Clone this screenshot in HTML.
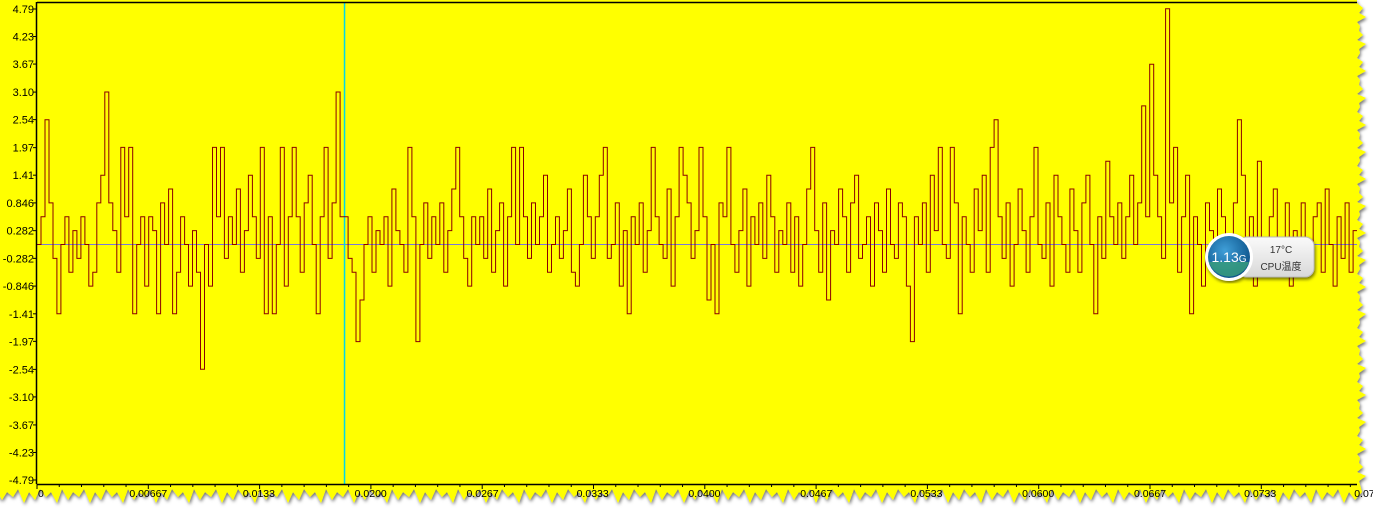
<!DOCTYPE html>
<html><head><meta charset="utf-8"><style>
html,body{margin:0;padding:0;background:#fff;width:1373px;height:513px;overflow:hidden}
svg{display:block}
text{font-family:"Liberation Sans","Noto Sans CJK SC",sans-serif}
</style></head><body>
<svg id="chart" width="1373" height="513" viewBox="0 0 1373 513">
<defs>
<filter id="sh" x="-5%" y="-5%" width="110%" height="110%"><feDropShadow dx="1" dy="2" stdDeviation="1.5" flood-color="#000" flood-opacity="0.55"/></filter>
<radialGradient id="ball" cx="40%" cy="35%" r="70%"><stop offset="0" stop-color="#3f9fd8"/><stop offset="1" stop-color="#0a4f86"/></radialGradient>
<linearGradient id="pill" x1="0" y1="0" x2="0" y2="1"><stop offset="0" stop-color="#fafafa"/><stop offset="1" stop-color="#d8d8d8"/></linearGradient>
<clipPath id="plotclip"><rect x="37" y="3" width="1320" height="482"/></clipPath>
</defs>
<path id="paper" fill="#ffff00" filter="url(#sh)"/>
<g id="grid" clip-path="url(#plotclip)"></g>
<g id="series" clip-path="url(#plotclip)"></g>
<g id="axes"></g>
<g filter="url(#sh)">
<rect x="1238" y="237" width="76" height="40" rx="9" fill="url(#pill)" stroke="#bbb"/>
<circle cx="1229" cy="257" r="24" fill="#fff"/>
<circle cx="1229" cy="257" r="21" fill="url(#ball)"/>
<path d="M1209 262 h40 a21 21 0 0 1 -40 0z" fill="#3aa07a" opacity="0.8"/>
<text x="1229" y="262" font-size="14" fill="#fff" text-anchor="middle">1.13<tspan font-size="10">G</tspan></text>
<text x="1281" y="253" font-size="10" fill="#333" text-anchor="middle">17°C</text>
<text x="1281" y="270" font-size="10" fill="#333" text-anchor="middle">CPU温度</text>
</g>
</svg>
<script>
const yTicks=[4.79,4.23,3.67,3.10,2.54,1.97,1.41,0.846,0.282,-0.282,-0.846,-1.41,-1.97,-2.54,-3.10,-3.67,-4.23,-4.79];
const yTickLabels=["4.79","4.23","3.67","3.10","2.54","1.97","1.41","0.846","0.282","-0.282","-0.846","-1.41","-1.97","-2.54","-3.10","-3.67","-4.23","-4.79"];
const xTicks=[0,0.00667,0.0133,0.0200,0.0267,0.0333,0.0400,0.0467,0.0533,0.0600,0.0667,0.0733,0.0799];
const xTickLabels=["0","0.00667","0.0133","0.0200","0.0267","0.0333","0.0400","0.0467","0.0533","0.0600","0.0667","0.0733","0.0799"];
const sampleStep=0.000239;
const levelUnit=0.282;
const signalLevels=[0,2,9,3,-1,-5,0,2,-2,1,
-1,2,0,-3,-2,3,5,11,3,1,
-2,7,2,7,-5,0,2,-3,2,1,
-5,3,0,4,-5,-2,2,0,-3,1,
-2,-9,0,-3,7,2,7,-1,2,0,
4,-2,1,5,2,-1,7,-5,2,-5,
0,7,-3,2,7,2,-2,3,5,0,
-5,2,7,-1,3,11,2,2,-1,-2,
-7,-4,0,2,-2,1,0,2,-3,4,
1,0,-2,7,2,-7,0,3,-1,2,
0,3,-2,1,4,7,2,-1,-3,2,
0,2,-1,4,-2,1,3,-3,2,7,
0,7,2,-1,3,0,2,5,-2,0,
2,-1,1,4,-2,-3,0,5,2,-1,
2,5,7,-1,0,3,-3,1,-5,2,
0,3,-2,1,7,2,0,-1,4,-3,
2,7,5,3,-1,1,7,2,-4,0,
-5,3,2,7,0,-2,1,4,-3,2,
0,3,-1,5,2,-2,1,0,3,-2,
2,-3,0,4,7,1,-2,3,-4,1,
0,4,2,-2,3,5,-1,0,2,-3,
3,1,-2,4,0,-1,3,2,-3,-7,
2,0,3,-2,5,1,7,0,-1,7,
3,-5,2,0,-2,4,1,5,-2,7,
9,2,-1,3,-3,0,4,1,-2,2,
7,0,-1,3,-3,5,2,0,-2,4,
1,-2,3,5,0,-5,2,-1,6,2,
0,3,-1,2,5,0,3,10,2,13,
5,2,-1,17,3,7,-2,2,5,-5,
2,0,-3,3,1,-2,4,2,-1,0,
3,9,5,-1,2,-3,6,0,-2,2,
4,-1,0,3,-3,1,-2,3,0,-1,
2,3,-2,4,0,-3,2,-1,3,-2,1];
const cursorTime=0.0184;

const NS="http://www.w3.org/2000/svg";
const L=37,R=1357,T=3,B=484;
const yScale=v=>244.5-v*(235.5/4.79);
const xScale=t=>L+t*(111.3/0.00667);
function el(tag,attrs,parent,txt){const e=document.createElementNS(NS,tag);for(const k in attrs)e.setAttribute(k,attrs[k]);if(txt!==undefined)e.textContent=txt;parent.appendChild(e);return e;}

let d="M0 0 L1357 0 L1357 3";
let j=0;
for(let y=8;y<482;y+=9){j++;d+=` L${1360+(j%3)*3} ${y} L${1357+(j%2)*2} ${y+5}`;}
d+=" L1362 492";
j=0;
for(let x=1355;x>0;x-=11){j++;d+=` L${x} ${497+(j%3)*3} L${x-6} ${489+(j%2)*3}`;}
d+=" L0 500 Z";
document.getElementById('paper').setAttribute('d',d);

const grid=document.getElementById('grid');
const axes=document.getElementById('axes');
const series=document.getElementById('series');

el('line',{x1:L,x2:R,y1:yScale(0),y2:yScale(0),stroke:'#7777dd','stroke-width':1,},grid);
const cur=el('line',{x1:xScale(cursorTime)+0.5,x2:xScale(cursorTime)+0.5,y1:T,y2:B,stroke:'#00d8e8','stroke-width':1.5},grid);



let p="";
signalLevels.forEach((v,i)=>{const x0=xScale(i*sampleStep),x1=xScale((i+1)*sampleStep);const y=yScale(v*levelUnit);p+=(i?` L${x0.toFixed(1)} ${y.toFixed(1)}`:`M${x0.toFixed(1)} ${y.toFixed(1)}`)+` L${x1.toFixed(1)} ${y.toFixed(1)}`;});
const sig=el('path',{d:p,fill:'none',stroke:'#8b0000','stroke-width':1},series);



el('line',{x1:L-0.5,x2:L-0.5,y1:T-1,y2:B,stroke:'#000','stroke-width':1.5,},axes);
el('line',{x1:L,x2:R,y1:T-0.5,y2:T-0.5,stroke:'#000','stroke-width':1.5,},axes);
el('line',{x1:L,x2:R,y1:B+0.5,y2:B+0.5,stroke:'#000','stroke-width':1.5,},axes);
yTicks.forEach((v,i)=>{const y=yScale(v);
 el('line',{x1:L-4,x2:L,y1:y,y2:y,stroke:'#000'},axes);
 const t=el('text',{x:L-3,y:y+4,'font-size':11,'text-anchor':'end',fill:'#000'},axes,yTickLabels[i]);
 
 
});
for(let k=0;k<=60;k++){const x=L+k*22.26;if(x>R)break;el('line',{x1:x,x2:x,y1:B,y2:B+(k%5?3:5),stroke:'#000'},axes);}
xTicks.forEach((v,i)=>{const x=xScale(v);
 const t=el('text',{x:i?x:x+1,y:497,'font-size':10.5,'text-anchor':i?'middle':'start',fill:'#000'},axes,xTickLabels[i]);
 
 
});
</script>
</body></html>
